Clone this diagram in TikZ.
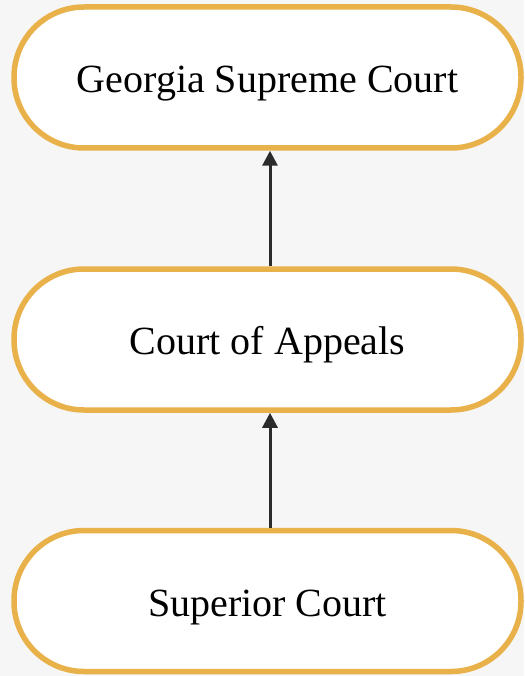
\documentclass[tikz,border=0pt]{standalone}
\usepackage{fontspec}
\setmainfont{Liberation Serif}
\usetikzlibrary{arrows.meta}
\definecolor{bg}{HTML}{F6F6F6}
\definecolor{gold}{HTML}{E9B14A}
\definecolor{arr}{HTML}{2B2B2B}
\begin{document}
\begin{tikzpicture}[x=1pt,y=1pt,
  court/.style={draw=gold, line width=5.5pt, fill=white, rounded corners=70pt,
    minimum width=507pt, minimum height=141pt, font=\fontsize{40}{48}\selectfont,
    inner sep=0pt, text height=30pt, text depth=0pt},
  link/.style={draw=arr, line width=3pt, -{Triangle[length=15pt,width=15pt]}}]
\fill[bg] (0,0) rectangle (524,-676);
\useasboundingbox (0,0) rectangle (524,-676);
\node[court] (g) at (267.5,-77.5) {Georgia Supreme Court};
\node[court] (a) at (267.5,-339.5) {Court of Appeals};
\node[court] (s) at (267.5,-601) {Superior Court};
\draw[link] ([xshift=2.5pt]s.north) -- ([xshift=2.5pt]a.south);
\draw[link] ([xshift=2.5pt]a.north) -- ([xshift=2.5pt]g.south);
\end{tikzpicture}
\end{document}
